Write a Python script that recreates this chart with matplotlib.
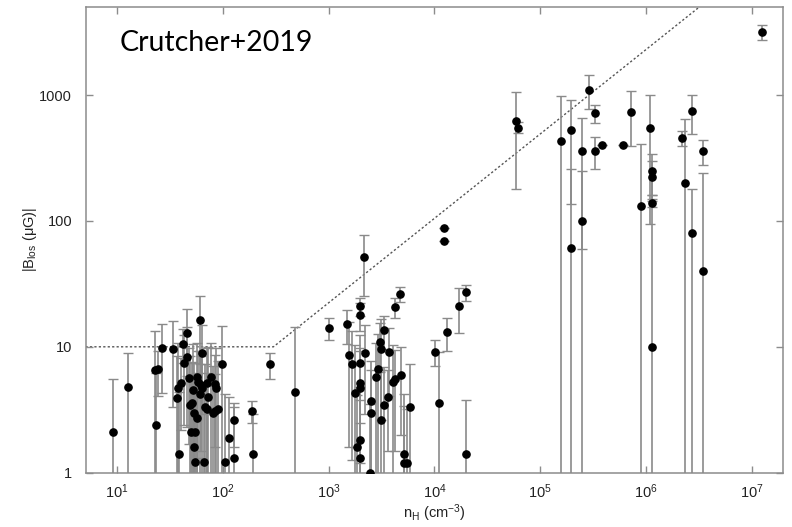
import numpy as np
import matplotlib
matplotlib.use("Agg")
import matplotlib.pyplot as plt

plt.rcParams["font.family"] = ["Liberation Sans", "DejaVu Sans"]
plt.rcParams["mathtext.fontset"] = "custom"
plt.rcParams["mathtext.rm"] = "Liberation Sans"
plt.rcParams["mathtext.it"] = "Liberation Sans:italic"

# Zeeman measurements: density n_H (cm^-3), |B_los| (uG) and 1-sigma uncertainty (uG)
n_H = [
    9.2, 12.5, 23.0, 22.8, 24.5, 26.3, 33.8, 37.2, 36.4, 38.0, 39.9, 41.5, 43.0,
    45.8, 45.8, 47.6, 48.6, 50.4, 49.7, 54.1, 52.2, 53.3, 56.9, 53.3, 54.6, 65.8,
    56.9, 58.3, 60.4, 63.9, 60.4, 61.3, 62.9, 67.8, 70.3, 72.2, 70.8, 76.2, 80.4,
    83.6, 83.6, 86.6, 89.8, 96.8, 104, 114, 128, 127, 190, 191, 281,
    476, 998, 1500, 1570, 1660, 1770, 1860, 1990, 1970, 1960, 1960, 1970, 1970,
    1970, 2150, 2180, 2520, 2520, 2470, 2810, 2940, 3140, 3320, 3080, 3140, 3360,
    3610, 3720, 4090, 4220, 4190, 4680, 4790, 5100, 5130, 5450, 5930,
    10160, 11000, 12400, 12400, 13060, 16900, 19900, 19800,
    59200, 62100, 1.59e5, 1.95e5, 1.95e5, 2.51e5, 2.51e5, 2.91e5, 3.31e5, 3.31e5,
    3.88e5, 6.12e5, 7.19e5, 8.96e5, 1.10e6, 1.15e6, 1.15e6, 1.15e6, 1.15e6,
    2.21e6, 2.33e6, 2.71e6, 2.71e6, 3.47e6, 3.47e6, 1.26e7,
]
B_los = [
    2.1, 4.8, 2.4, 6.6, 6.7, 9.8, 9.6, 4.7, 3.9, 1.41, 5.2, 10.6, 7.4,
    12.9, 8.3, 5.7, 3.45, 3.6, 2.1, 2.1, 4.5, 3.0, 2.7, 1.6, 1.22, 1.22,
    5.8, 5.3, 16.3, 8.9, 4.2, 5.0, 4.7, 3.3, 3.2, 4.0, 5.2, 5.8, 3.0,
    3.1, 5.1, 4.7, 3.2, 7.25, 1.22, 1.9, 2.6, 1.3, 3.1, 1.41, 7.25,
    4.4, 14.1, 15.1, 8.6, 7.25, 4.27, 1.61, 1.82, 1.3, 5.2, 4.7, 7.5, 17.9,
    21.1, 51.5, 8.9, 3.7, 3.0, 1.0, 5.8, 6.7, 2.6, 3.45, 10.85, 9.6, 13.6,
    4.0, 9.1, 5.3, 5.5, 20.8, 26.1, 6.0, 1.41, 1.2, 1.2, 3.3,
    9.15, 3.6, 87.3, 69.0, 13.0, 21.2, 27.0, 1.41,
    620, 550, 433, 527, 60.5, 360, 100, 1100, 715, 360,
    401, 401, 735, 131, 545, 250, 222, 140, 10.0,
    453, 201, 747, 80.5, 360, 40.2, 3140,
]
B_err = [
    3.4, 4.2, 3.8, 6.7, 2.6, 5.5, 6.3, 6.0, 4.5, 3.0, 3.0, 3.2, 5.0,
    7.0, 6.0, 4.0, 5.0, 4.0, 4.0, 3.0, 6.0, 4.5, 3.5, 3.0, 4.0, 3.0,
    5.0, 4.0, 9.0, 6.0, 5.0, 3.5, 4.0, 4.0, 3.0, 6.0, 4.5, 5.0, 4.0,
    3.0, 3.5, 5.0, 4.5, 7.5, 3.0, 2.1, 1.0, 2.0, 0.6, 1.5, 1.65,
    10.0, 2.7, 4.5, 7.0, 6.0, 6.0, 2.5, 3.0, 2.5, 4.0, 5.0, 5.0, 4.5,
    3.5, 26.0, 6.0, 4.0, 3.5, 2.5, 5.0, 6.0, 4.0, 3.5, 4.5, 7.0, 4.0,
    2.5, 5.0, 5.0, 4.0, 3.8, 3.5, 4.0, 2.0, 3.0, 2.0, 4.0,
    2.1, 5.5, 0.0, 0.0, 3.8, 8.3, 4.0, 2.4,
    440, 55, 550, 390, 200, 300, 150, 330, 120, 100,
    0.0, 0.0, 340, 280, 450, 90, 78, 10, 150,
    60, 440, 260, 100, 80, 200, 430,
]

# Upper envelope of the field strength: flat below n0, power law above
env_n = [5.0, 300.0, 3.2e6]
env_B = [10.0, 10.0, 10.0 * (3.2e6 / 300.0) ** 0.67]

fig = plt.figure(figsize=(7.92, 5.27), dpi=100)
ax = fig.add_axes([86 / 792, 1 - 472.7 / 527, (783 - 86) / 792, (472.7 - 7) / 527])
ax.set_xscale("log")
ax.set_yscale("log")

ax.plot(env_n, env_B, color="#555555", lw=1.0, ls=(0, (1.6, 1.6)), zorder=1)

ax.errorbar(n_H, B_los, yerr=B_err, fmt="o", color="black", ms=5.2,
            ecolor="#8a8a8a", elinewidth=1.2, capsize=3.6, capthick=1.0,
            zorder=3)

ax.set_xlim(5.06, 1.98e7)
ax.set_ylim(1, 5000)

gray = "#8c8c8c"
for s in ax.spines.values():
    s.set_color(gray)
    s.set_linewidth(1.1)

ax.set_xticks([10.0 ** k for k in range(1, 8)])
ax.set_xticklabels([r"$10^{%d}$" % k for k in range(1, 8)])
ax.set_yticks([1, 10, 100, 1000])
ax.set_yticklabels(["1", "10", "100", "1000"])
ax.minorticks_off()
ax.tick_params(which="both", direction="in", length=5, width=1.0, color=gray,
               top=True, right=True, labelsize=10.5, labelcolor="#222222")
ax.tick_params(axis="x", pad=7)
ax.tick_params(axis="y", pad=10)

ax.set_xlabel(r"n$_{\rm H}$ (cm$^{-3}$)", fontsize=10.5, color="#222222")
ax.xaxis.set_label_coords(0.5, -0.064)
ax.set_ylabel(r"|B$_{\rm los}$ (μG)|", fontsize=10.5, color="#222222")
ax.yaxis.set_label_coords(-0.068, 0.5)

fig.text(120 / 792, 1 - 50.7 / 527, "Crutcher+2019", fontsize=20.5,
         family=["Lato", "DejaVu Sans"], color="black", va="baseline")

fig.savefig("out.png", dpi=100)
